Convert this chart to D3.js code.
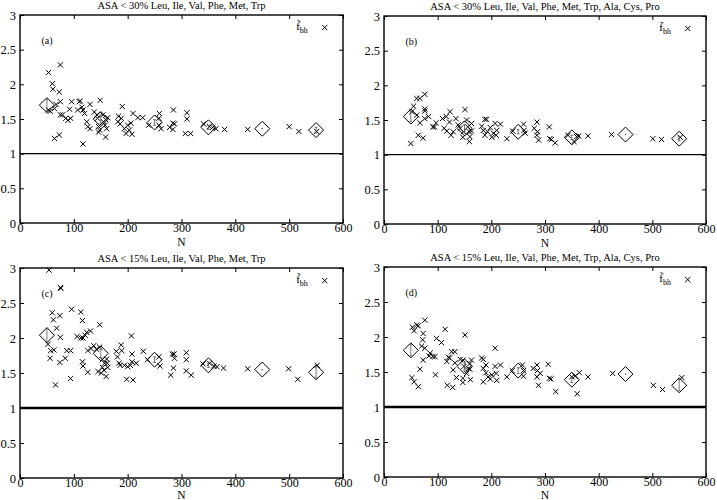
<!DOCTYPE html>
<html><head><meta charset="utf-8">
<script src="https://cdn.jsdelivr.net/npm/d3@7"></script>
<style>
body{margin:0;background:#fff;}
svg{display:block;}
svg text{font-family:"Liberation Serif","Times New Roman",serif !important;}
</style></head>
<body><svg id="c" width="717" height="500"></svg>
<script>
// ---------- data ----------
const titles = [
  "ASA < 30% Leu, Ile, Val, Phe, Met, Trp",
  "ASA < 30% Leu, Ile, Val, Phe, Met, Trp, Ala, Cys, Pro",
  "ASA < 15% Leu, Ile, Val, Phe, Met, Trp",
  "ASA < 15% Leu, Ile, Val, Phe, Met, Trp, Ala, Cys, Pro"
];
const panelLabels = ["(a)", "(b)", "(c)", "(d)"];
const legendMarks = ["\u0303", "\u0304", "\u0303", "\u0303"];
const xTicks = [0, 100, 200, 300, 400, 500, 600];
const yTicks = [0, 0.5, 1, 1.5, 2, 2.5, 3];
const meanN = [50, 150, 250, 350, 450, 550];

const nA = [53,75,60,61,73,75,67,53,56,64,75,79,85,89,92,96,94,110,112,107,115,117,120,124,126,130,130,138,143,149,144,146,146,148,154,155,158,159,161,159,163,117,64,73,182,183,186,190,188,194,197,203,206,208,210,200,219,228,239,259,258,262,258,278,284,285,284,287,310,310,307,317,341,352,358,364,380,423,500,518,551];
const fA = [2.17,2.28,2.01,1.93,1.89,1.75,1.71,1.63,1.61,1.65,1.56,1.56,1.51,1.48,1.64,1.75,1.51,1.75,1.76,1.63,1.67,1.63,1.58,1.46,1.39,1.36,1.71,1.60,1.56,1.77,1.51,1.39,1.31,1.34,1.56,1.46,1.41,1.49,1.36,1.24,1.52,1.14,1.22,1.27,1.46,1.54,1.43,1.68,1.51,1.36,1.29,1.34,1.44,1.28,1.58,1.41,1.52,1.52,1.41,1.58,1.51,1.36,1.41,1.38,1.35,1.63,1.44,1.43,1.59,1.50,1.29,1.29,1.43,1.39,1.38,1.36,1.35,1.35,1.39,1.32,1.32];
const meanA = [1.70,1.50,1.45,1.38,1.36,1.34];
const errA = [0.08,0.06,0.04,0.03,0.0,0.04];

const nB = [76,61,67,55,76,76,52,61,76,83,67,91,94,97,50,64,73,109,116,123,112,117,122,125,129,134,138,142,148,151,154,156,159,160,159,163,163,147,182,185,188,191,188,193,198,201,204,207,210,209,217,229,240,260,261,263,280,285,286,288,285,308,309,312,319,343,354,359,363,380,424,501,517,552];
const fB = [1.87,1.81,1.81,1.70,1.66,1.63,1.62,1.57,1.52,1.55,1.46,1.40,1.40,1.46,1.16,1.28,1.24,1.52,1.55,1.62,1.38,1.34,1.47,1.28,1.33,1.52,1.43,1.38,1.33,1.65,1.50,1.40,1.33,1.26,1.19,1.45,1.34,1.25,1.41,1.35,1.51,1.51,1.28,1.33,1.39,1.25,1.31,1.45,1.35,1.28,1.44,1.23,1.34,1.44,1.35,1.31,1.38,1.47,1.33,1.21,1.28,1.40,1.23,1.22,1.17,1.28,1.19,1.26,1.27,1.27,1.29,1.23,1.22,1.25];
const meanB = [1.55,1.38,1.33,1.25,1.29,1.23];
const errB = [0.07,0.05,0.03,0.03,0.0,0.03];

const nC = [54,75,76,60,62,74,68,75,52,57,63,56,74,84,87,94,66,94,96,113,116,106,113,117,121,124,131,116,117,126,126,132,137,142,148,148,145,153,153,151,156,157,161,162,160,163,179,181,184,186,188,189,194,198,200,205,207,208,208,210,216,229,237,258,260,280,283,286,285,287,309,309,309,318,340,352,360,366,378,423,499,516,552];
const fC = [2.97,2.72,2.71,2.36,2.26,2.32,2.14,2.01,1.91,1.82,1.83,1.71,1.65,1.71,1.82,1.82,1.33,1.42,2.41,2.37,2.25,2.02,2.00,2.00,2.04,2.08,2.10,1.66,1.60,1.82,1.51,1.85,1.89,1.84,2.19,1.87,1.52,1.69,1.58,1.50,1.54,1.64,1.70,1.64,1.45,1.58,1.81,1.73,1.64,1.61,1.90,1.82,1.61,1.41,1.59,1.61,2.03,1.77,1.66,1.40,1.64,1.81,1.69,1.73,1.60,1.47,1.77,1.77,1.57,1.71,1.79,1.69,1.53,1.47,1.63,1.64,1.60,1.59,1.57,1.56,1.56,1.41,1.61];
const meanC = [2.04,1.78,1.69,1.61,1.55,1.51];
const errC = [0.10,0.06,0.04,0.03,0.0,0.08];

const nD = [76,53,61,64,56,73,72,70,76,73,98,107,114,86,91,95,84,67,52,56,64,96,117,120,122,126,132,132,129,118,128,135,142,147,151,149,147,147,154,157,160,160,161,163,182,185,185,185,190,190,194,198,201,207,207,209,210,217,229,239,258,260,260,278,285,286,285,288,291,306,308,311,320,350,356,360,364,380,426,502,519,555];
const fD = [2.24,2.14,2.17,2.16,2.09,2.05,1.96,1.87,1.84,1.67,1.98,1.92,2.11,1.77,1.72,1.72,1.73,1.54,1.42,1.36,1.29,1.46,1.65,1.71,1.70,1.79,1.79,1.63,1.53,1.31,1.28,1.42,1.68,1.67,2.03,1.58,1.41,1.35,1.48,1.55,1.62,1.54,1.39,1.67,1.70,1.68,1.55,1.36,1.49,1.60,1.43,1.40,1.46,1.84,1.58,1.48,1.38,1.60,1.43,1.52,1.60,1.52,1.44,1.55,1.60,1.52,1.43,1.31,1.48,1.61,1.41,1.40,1.22,1.43,1.44,1.19,1.49,1.43,1.48,1.31,1.25,1.42];
const meanD = [1.81,1.58,1.52,1.39,1.47,1.31];
const errD = [0.08,0.05,0.04,0.04,0.0,0.08];

const panels = [
  {n:nA, f:fA, mean:meanA, err:errA, left:20, top:15, w:323, h:208, baseW:1.4},
  {n:nB, f:fB, mean:meanB, err:errB, left:384, top:16, w:322, h:208, baseW:1.4},
  {n:nC, f:fC, mean:meanC, err:errC, left:20, top:268, w:323, h:210, baseW:2.6},
  {n:nD, f:fD, mean:meanD, err:errD, left:384, top:267, w:322, h:210, baseW:2.6}
];

const svg = d3.select("#c");

function cross(g, x, y, s) {
  g.append("path")
    .attr("d", `M${x-s},${y-s}L${x+s},${y+s}M${x-s},${y+s}L${x+s},${y-s}`)
    .attr("stroke", "#000").attr("stroke-width", 1).attr("fill", "none");
}

panels.forEach((p, i) => {
  const x = d3.scaleLinear().domain([0, 600]).range([0, p.w]);
  const y = d3.scaleLinear().domain([0, 3]).range([p.h, 0]);
  const g = svg.append("g").attr("transform", `translate(${p.left},${p.top})`);

  // title
  g.append("text").attr("x", p.w/2).attr("y", -6)
    .attr("text-anchor", "middle").attr("font-size", 10.5).text(titles[i]);

  // axes with inward ticks
  const ax = d3.axisBottom(x).tickValues(xTicks).tickSize(-4).tickPadding(2).tickFormat(d3.format("d"));
  const ay = d3.axisLeft(y).tickValues(yTicks).tickSize(-4).tickPadding(4).tickFormat(d => d);
  const gx = g.append("g").attr("transform", `translate(0,${p.h})`).call(ax);
  const gy = g.append("g").call(ay);
  const gt = g.append("g").call(d3.axisTop(x).tickValues(xTicks).tickSize(-4).tickFormat(""));
  const gr = g.append("g").attr("transform", `translate(${p.w},0)`).call(d3.axisRight(y).tickValues(yTicks).tickSize(-4).tickFormat(""));
  [gx, gy, gt, gr].forEach(a => {
    a.attr("font-family", null);
    a.select(".domain").remove();
    a.selectAll("line").attr("stroke", "#000").attr("stroke-width", 1);
    a.selectAll("text").attr("font-size", 12.5).attr("fill", "#000");
  });
  gx.selectAll("text").attr("font-size", 12).attr("dy", "0.58em");
  g.append("rect").attr("width", p.w).attr("height", p.h)
    .attr("fill", "none").attr("stroke", "#000").attr("stroke-width", 1.4);

  // x-axis label
  g.append("text").attr("x", p.w/2).attr("y", Math.min(p.h + 23, 499 - p.top))
    .attr("text-anchor", "middle").attr("font-size", 11.5).text("N");

  // baseline at 1
  g.append("line").attr("x1", 0).attr("x2", p.w)
    .attr("y1", y(1)).attr("y2", y(1))
    .attr("stroke", "#000").attr("stroke-width", p.baseW);

  // panel label
  g.append("text").attr("x", x(40)).attr("y", y(2.58))
    .attr("font-size", 10).text(panelLabels[i]);

  // legend
  const lt = g.append("text").attr("x", x(513)).attr("y", y(2.78)).attr("font-size", 11).attr("fill", "#000");
  lt.append("tspan").text("f" + legendMarks[i]);
  lt.append("tspan").attr("font-size", 8).attr("dy", 3).text("bh");
  cross(g, x(566), y(2.82), 2.6);

  // points
  p.n.forEach((nv, k) => cross(g, x(nv), y(p.f[k]), 2.6));

  // means (diamonds with error bars)
  meanN.forEach((nv, k) => {
    const cx = x(nv), cy = y(p.mean[k]), r = 7.5;
    g.append("path")
      .attr("d", `M${cx},${cy-r}L${cx+r},${cy}L${cx},${cy+r}L${cx-r},${cy}Z`)
      .attr("fill", "none").attr("stroke", "#000").attr("stroke-width", 1);
    const e = p.err[k];
    if (e > 0) {
      const y1 = y(p.mean[k] - e), y2 = y(p.mean[k] + e);
      g.append("path")
        .attr("d", `M${cx},${y1}L${cx},${y2}M${cx-1.5},${y1}L${cx+1.5},${y1}M${cx-1.5},${y2}L${cx+1.5},${y2}`)
        .attr("stroke", "#555").attr("stroke-width", 0.8).attr("fill", "none");
    } else {
      g.append("circle").attr("cx", cx).attr("cy", cy).attr("r", 0.6).attr("fill", "#000");
    }
  });
});
</script></body></html>
